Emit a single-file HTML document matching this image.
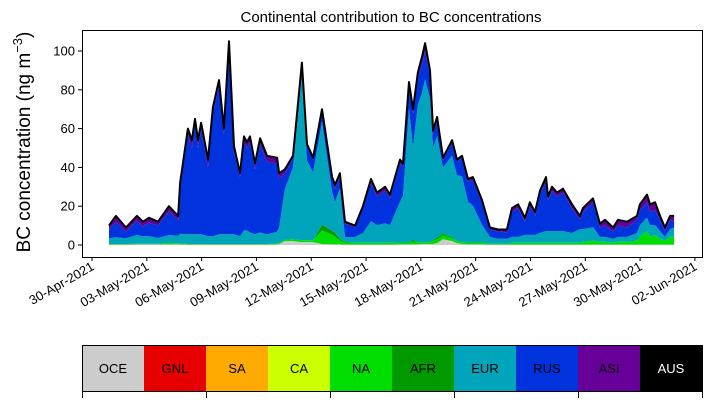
<!DOCTYPE html>
<html><head><meta charset="utf-8"><style>
body{margin:0;background:#fff;width:711px;height:402px;overflow:hidden;font-family:"Liberation Sans","DejaVu Sans",sans-serif}
</style></head><body>
<svg id="chart" width="711" height="402" xmlns="http://www.w3.org/2000/svg" font-family="Liberation Sans, DejaVu Sans, sans-serif"></svg>
<script>
const days=[0.93,1.31,1.86,2.46,2.79,3.12,3.61,4.21,4.71,4.82,5.25,5.47,5.64,5.80,5.97,6.35,6.62,6.95,7.22,7.50,7.77,8.10,8.32,8.48,8.65,8.92,9.20,9.58,10.13,10.24,10.56,11.00,11.49,11.77,12.10,12.59,13.14,13.30,13.57,13.85,14.12,14.40,14.83,15.27,15.60,16.04,16.31,16.86,17.02,17.35,17.57,17.84,18.06,18.23,18.50,18.67,18.89,19.21,19.71,19.98,20.25,20.58,20.85,21.35,21.78,22.22,22.71,22.99,23.32,23.70,23.97,24.25,24.52,24.85,24.96,25.18,25.45,25.78,26.27,26.71,26.87,27.42,27.80,28.08,28.52,28.79,29.28,29.83,29.99,30.38,30.54,30.82,31.09,31.36,31.64,31.86];
const total=[10,15,9,15,12,14,12,20,15,32,60,54,65,54,63,44,71,85,60,105,51,37,56,53,56,42,55,46,45,37,39,46,94,52,45,70,35,31,37,12,11,10,20,34,27,30,26,44,42,84,70,89,97,104,90,59,66,45,54,44,46,34,35,23,9,8,8,19,21,14,22,17,28,35,25,30,27,29,21,15,19,24,11,13,9,13,12,15,21,26,21,22,15,9,15,15];
const eur=[3,3.5,3,4.5,4,4,3,4,4,5,5,5,5,5,5,4,4,5,5,5,5,4,7,7,6,5,6,5,6,8,26,37,85,41,35,53,20,16,26,2.5,2.5,3,5,11,9,10,9,21,24,69,48,71,77,84,74,48,52,34,42,34,34,21,19,9,3.5,2.5,2.5,3,3,4,4,4,5,6,6,6,6,6,5,7,6.5,7,2.5,2.5,2,2.5,2.5,4,6,7,6,5,4,2,4,5];
const na=[0.3,0.3,0.3,0.3,0.3,0.3,0.3,0.8,0.5,0.5,0.3,0.3,0.3,0.3,0.3,0.3,0.3,0.3,0.3,0.3,0.3,0.3,0.3,0.3,0.3,0.3,0.3,0.3,0.5,0.5,0.8,1,1,1,1,7,5,4,2,1,1,1,1,1,1,1,1,1,1,1,1.5,1,1,1,1,1.5,2,2,1.5,1,1,1,1,1,0.5,0.5,0.5,1,1,1,1,1,1,1,1,1,1,1,1,1,1.5,2,1.5,1.5,1,1.5,1.5,2,4,7,4,5,3,2,4,4];
const afr=[0,0,0,0,0,0,0,0,0,0,0,0,0,0,0,0,0,0,0,0,0,0,0,0,0,0,0,0,0,0,0,0,0,0,0,3,2,2,1,0.5,0.3,0,0,0,0,0,0,0,0,0,1,0,0,0,0,0.5,1,1,0.5,0,0,0,0,0,0,0,0,0,0,0,0,0,0,0,0,0,0,0,0,0,0,0,0,0,0,0,0,0,0,0,0,0,0,0,0,0];
const oce=[0.2,0.2,0.2,0.3,0.3,0.3,0.3,0.3,0.3,0.3,0.2,0.2,0.2,0.2,0.2,0.2,0.2,0.2,0.2,0.2,0.2,0.2,0.2,0.2,0.2,0.2,0.2,0.2,0.3,0.5,2,2,1.5,1.5,1.5,0.5,0.3,0.3,0.3,0.2,0.2,0.2,0.2,0.2,0.2,0.2,0.2,0.3,0.3,0.3,0.3,0.3,0.5,0.5,0.5,0.5,1,3,2,1,0.5,0.3,0.3,0.3,0.2,0.2,0.2,0.2,0.2,0.2,0.2,0.2,0.2,0.2,0.2,0.2,0.2,0.2,0.2,0.2,0.2,0.2,0.2,0.2,0.2,0.2,0.2,0.2,0.2,0.2,0.2,0.2,0.2,0.2,0.2,0.2];
const asi=[2,3,2,2.5,2.5,2.5,2,2.5,2.5,2.5,3,4,3,4,3,4,3,3,3,2,3,2,3,3,3,3,3,3,3,3,2,1.5,1,1,1,1,1.5,2,1.5,1,1,1,1,2,2,2,2,2,2,2,2,3,4,4,3,2,2,1.5,1,1,1,1.5,1.5,1.5,1,1,1.5,2,2,2,2,2,2,2,2,2,2,2,2,2,2,2,2,3,2,3,3,2,3,4,4,4,2,2,2,3];
const yTicks=[0,20,40,60,80,100];
const xTickDays=[0,3,6,9,12,15,18,21,24,27,30,33];
const xTickLabels=["30-Apr-2021","03-May-2021","06-May-2021","09-May-2021","12-May-2021","15-May-2021","18-May-2021","21-May-2021","24-May-2021","27-May-2021","30-May-2021","02-Jun-2021"];
const regions=["OCE","GNL","SA","CA","NA","AFR","EUR","RUS","ASI","AUS"];
const colors=["#cccccc","#e60000","#ffaa00","#ccff00","#00dd00","#009900","#00a5bb","#0033dd","#660099","#000000"];

const NS="http://www.w3.org/2000/svg";
const svg=document.getElementById('chart');
const L=82,R=702,T=30,B=257;
const xS=d=>92+d*18.27;
const yS=v=>245-v*1.94;
function mk(tag,attrs,parent){const e=document.createElementNS(NS,tag);for(const k in attrs)e.setAttribute(k,attrs[k]);(parent||svg).appendChild(e);return e;}

const zeros=days.map(()=>0);
const rus=total.map((t,i)=>Math.max(0,t-oce[i]-na[i]-afr[i]-eur[i]-asi[i]));
const layers=[oce,zeros,zeros,zeros,na,afr,eur,rus,asi,zeros];
let base=zeros.slice();
const gArea=mk('g',{});


layers.forEach((arr,li)=>{
  const top=base.map((b,i)=>b+arr[i]);
  let d='M'+days.map((dd,i)=>xS(dd).toFixed(1)+','+yS(top[i]).toFixed(1)).join('L');
  for(let i=days.length-1;i>=0;i--)d+='L'+xS(days[i]).toFixed(1)+','+yS(base[i]).toFixed(1);
  const p=mk('path',{d:d+'Z',fill:colors[li],stroke:'none'},gArea);
  
  
  base=top;
});
const tl=mk('polyline',{points:days.map((dd,i)=>xS(dd).toFixed(1)+','+yS(total[i]).toFixed(1)).join(' '),fill:'none',stroke:'#000','stroke-width':2,'stroke-linejoin':'round'});



const fr=mk('rect',{x:L+0.5,y:T+0.5,width:R-L,height:B-T,fill:'none',stroke:'#000','stroke-width':1});



yTicks.forEach(v=>{
  const y=yS(v);
  mk('line',{x1:L-4,x2:L,y1:y,y2:y,stroke:'#000'});
  const t=mk('text',{x:L-7,y:y+4.5,'text-anchor':'end','font-size':13,fill:'#000'});
  t.textContent=v;
  
  
});
xTickDays.forEach((d,i)=>{
  const x=xS(d);
  if(x>R)return;
  mk('line',{x1:x,x2:x,y1:B,y2:B+4,stroke:'#000'});
  const t=mk('text',{x:0,y:0,'text-anchor':'end','font-size':13,fill:'#000',transform:`translate(${x+3},${B+12}) rotate(-30)`});
  t.textContent=xTickLabels[i];
  
  
});
const title=mk('text',{x:391,y:22,'text-anchor':'middle','font-size':15,fill:'#000'});
title.textContent='Continental contribution to BC concentrations';


const yl=mk('text',{x:0,y:0,'text-anchor':'middle','font-size':19,fill:'#000',transform:'translate(30,142) rotate(-90)'});
yl.innerHTML='BC concentration (ng m<tspan dy="-8" font-size="13">−3</tspan><tspan dy="8">)</tspan>';



const gL=mk('g',{});


const cw=62;
regions.forEach((r,i)=>{
  const rc=mk('rect',{x:L+i*cw,y:345,width:cw,height:47,fill:colors[i]},gL);
  
  
  const t=mk('text',{x:L+i*cw+cw/2,y:373,'text-anchor':'middle','font-size':13,fill:r==='AUS'?'#fff':'#000'},gL);
  t.textContent=r;
  
  
});
mk('rect',{x:L+0.5,y:345.5,width:cw*10,height:46,fill:'none',stroke:'#000'},gL);
for(let i=0;i<=10;i+=2){mk('line',{x1:L+i*cw+0.5,x2:L+i*cw+0.5,y1:392,y2:398,stroke:'#000'},gL);}
</script>
</body></html>
